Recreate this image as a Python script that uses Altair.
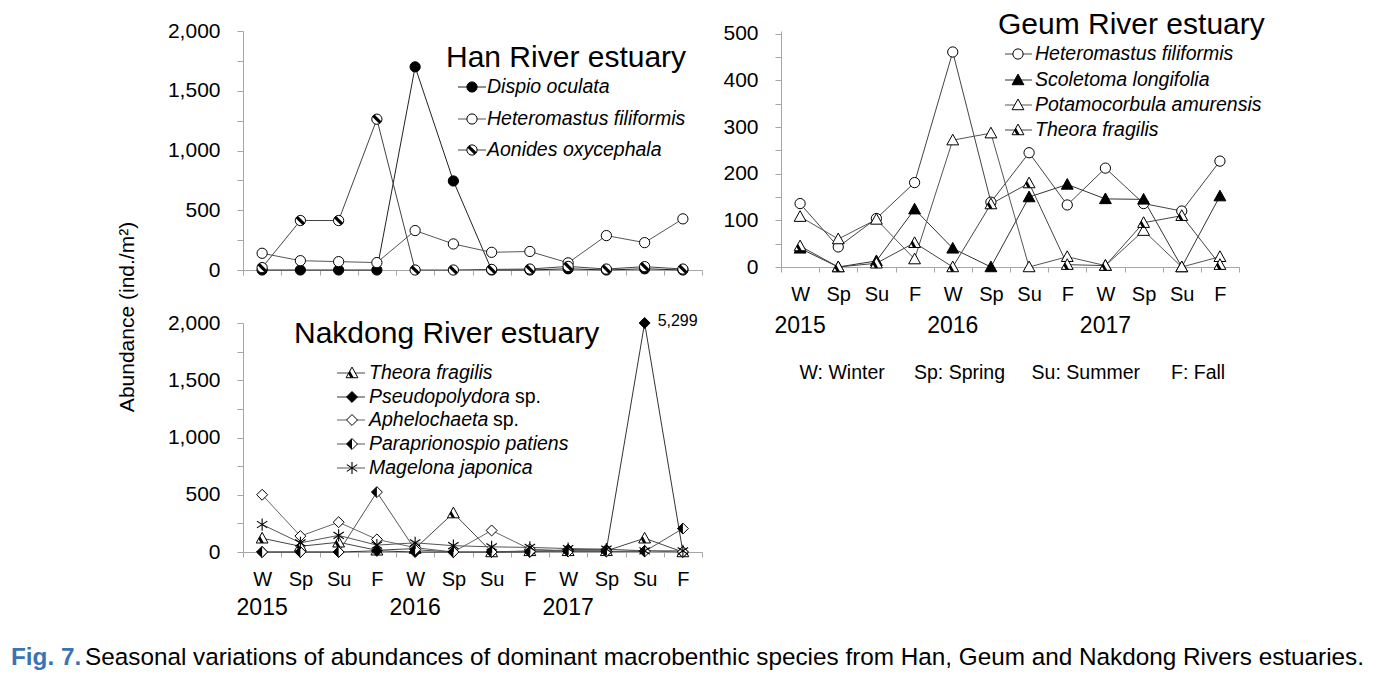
import altair as alt
import pandas as pd

FONT = "Liberation Sans"

seasons = ["W", "Sp", "Su", "F"]
years = ["2015", "2016", "2017"]
ids = [f"{s}-{y}" for y in years for s in seasons]

# ---- Han River estuary ----
han_names = ["Dispio oculata", "Heteromastus filiformis", "Aonides oxycephala"]
han_dispio = [0, 0, 0, 0, 1700, 745, 0, 0, 10, 0, 10, 0]
han_hetero = [140, 78, 70, 62, 330, 218, 148, 155, 60, 288, 229, 428]
han_aonides = [20, 414, 414, 1262, 0, 0, 5, 8, 30, 8, 28, 8]

# ---- Geum River estuary ----
geum_names = ["Heteromastus filiformis", "Scoletoma longifolia",
              "Potamocorbula amurensis", "Theora fragilis"]
geum_hetero = [136, 43, 104, 181, 461, 139, 245, 133, 212, 136, 120, 227]
geum_scol = [40, 0, 13, 124, 40, 0, 150, 177, 146, 145, 0, 152]
geum_pota = [108, 60, 102, 17, 272, 287, 0, 22, 3, 78, 0, 22]
geum_theora = [45, 0, 8, 52, 0, 135, 180, 5, 3, 95, 110, 5]

# ---- Nakdong River estuary ----
nak_names = ["Theora fragilis", "Pseudopolydora", "Aphelochaeta",
             "Paraprionospio patiens", "Magelona japonica"]
nak_suffix = ["", "sp.", "sp.", "", ""]
nak_theora = [120, 50, 85, 15, 30, 340, 0, 10, 10, 10, 120, 0]
nak_pseudo = [0, 0, 0, 10, 0, 0, 0, 0, 20, 20, 2000, 0]
nak_aphel = [500, 139, 260, 110, 38, 0, 188, 25, 10, 5, 10, 0]
nak_para = [0, 0, 0, 523, 20, 0, 0, 5, 5, 5, 5, 205]
nak_mag = [240, 80, 145, 60, 80, 55, 45, 40, 30, 25, 10, 10]
nak_peak_label = "5,299"

season_legend = ["W: Winter", "Sp: Spring", "Su: Summer", "F: Fall"]
y_title = "Abundance (ind./m\u00b2)"
caption_fig = "Fig. 7."
caption_text = ("Seasonal variations of abundances of dominant macrobenthic species "
                "from Han, Geum and Nakdong Rivers estuaries.")

# ---- marker shapes (unit square paths) ----
TRI = "M0,-1L1,0.8L-1,0.8Z"
TRI_BAND = "M-0.35,-0.37L0.3,0.8L-0.25,0.8L-0.62,0.12Z"
DIA = "M0,-1L1,0L0,1L-1,0Z"
DIA_HALF = "M0,-1L-1,0L0,1Z"
HATCH = "M-0.68,-0.68L0.68,0.68"
AST = "M0,-1L0,1M-0.85,-0.55L0.85,0.55M-0.85,0.55L0.85,-0.55"

STYLES = {
    "circle_filled": dict(shape="circle", fill="black", size=105),
    "circle_open": dict(shape="circle", fill="white", size=105),
    "circle_hatch": dict(shape="circle", fill="white", size=105, over=("stroke", HATCH)),
    "tri_filled": dict(shape=TRI, fill="black", size=140),
    "tri_open": dict(shape=TRI, fill="white", size=140),
    "tri_half": dict(shape=TRI, fill="white", size=140, over=("fill", TRI_BAND)),
    "dia_filled": dict(shape=DIA, fill="black", size=120),
    "dia_open": dict(shape=DIA, fill="white", size=120),
    "dia_half": dict(shape=DIA, fill="white", size=120, over=("fill", DIA_HALF)),
    "asterisk": dict(shape=AST, fill=None, size=150),
}


def marker_layers(base, style, enc):
    st = STYLES[style]
    out = []
    if st["fill"] is None:
        out.append(base.mark_point(shape=st["shape"], filled=False, stroke="black",
                                   strokeWidth=1.1, size=st["size"], opacity=1).encode(**enc))
    else:
        out.append(base.mark_point(shape=st["shape"], filled=True, fill=st["fill"],
                                   stroke="black", strokeWidth=1, size=st["size"],
                                   opacity=1).encode(**enc))
    if "over" in st:
        kind, path = st["over"]
        if kind == "stroke":
            out.append(base.mark_point(shape=path, filled=False, stroke="black",
                                       strokeWidth=3.2, size=st["size"], opacity=1).encode(**enc))
        else:
            out.append(base.mark_point(shape=path, filled=True, fill="black",
                                       strokeWidth=0, size=st["size"], opacity=1).encode(**enc))
    return out


def xenc(show_labels):
    return alt.X("t:N", title=None, bandPosition=0.5,
                 scale=alt.Scale(type="band", domain=ids, paddingInner=0, paddingOuter=0),
                 axis=alt.Axis(tickBand="extent", labels=show_labels, labelAngle=0,
                               labelExpr="datum.value ? split(datum.value, '-')[0] : ''",
                               tickSize=5, labelPadding=12, labelFontSize=20))


def yenc(vmax, step, lstep, top):
    return alt.Y("value:Q", title=None,
                 scale=alt.Scale(domain=[0, top], nice=False),
                 axis=alt.Axis(values=list(range(0, vmax + 1, step)),
                               labelExpr=f"datum.value % {lstep} == 0 ? format(datum.value, ',') : ''",
                               tickSize=6, labelPadding=17, labelFontSize=21))


def series_layers(names, values, styles, colors, X, Y):
    lines, marks = [], []
    for n, vals, st, col in zip(names, values, styles, colors):
        d = pd.DataFrame({"t": ids, "value": vals, "series": n})
        base = alt.Chart(d)
        lines.append(base.mark_line(color=col, strokeWidth=1).encode(x=X, y=Y))
        marks += marker_layers(base, st, dict(x=X, y=Y))
    return lines + marks


def legend_layers(names, styles, colors, ys, x0, x1, xm, xt, suffix=None, suffix_x=None):
    out = []
    for i, (n, st, col, y) in enumerate(zip(names, styles, colors, ys)):
        base = alt.Chart(pd.DataFrame({"name": [n], "suf": [suffix[i] if suffix else ""]}))
        out.append(base.mark_rule(color=col, strokeWidth=1).encode(
            x=alt.value(x0), x2=alt.value(x1), y=alt.value(y)))
        out += marker_layers(base, st, dict(x=alt.value(xm), y=alt.value(y)))
        out.append(base.mark_text(align="left", baseline="middle", font=FONT, fontStyle="italic",
                                  fontSize=19.5, color="black").encode(
            x=alt.value(xt), y=alt.value(y), text="name:N"))
        if suffix and suffix[i]:
            out.append(base.mark_text(align="left", baseline="middle", font=FONT,
                                      fontSize=19.5, color="black").encode(
                x=alt.value(suffix_x[i]), y=alt.value(y), text="suf:N"))
    return out


def title_layer(text, x, y):
    return alt.Chart(pd.DataFrame({"s": [text]})).mark_text(
        align="left", baseline="alphabetic", font=FONT, fontSize=30, color="black").encode(
        x=alt.value(x), y=alt.value(y), text="s:N")


def year_layer(X, y):
    d = pd.DataFrame({"t": [f"W-{yr}" for yr in years], "year": years})
    return alt.Chart(d).mark_text(font=FONT, fontSize=23, color="black", baseline="middle").encode(
        x=X, y=alt.value(y), text="year:N")


# ================= Han panel =================
HW, HH = 459, 239
Xh = xenc(False)
Yh = yenc(2000, 250, 500, 2000)
han_layers = series_layers(han_names, [han_dispio, han_hetero, han_aonides],
                           ["circle_filled", "circle_open", "circle_hatch"],
                           ["#222222", "#555555", "#444444"], Xh, Yh)
han_layers.append(title_layer("Han River estuary", 203, 36))
han_layers += legend_layers(han_names, ["circle_filled", "circle_open", "circle_hatch"],
                            ["#222222", "#555555", "#444444"], [56, 88, 119],
                            215, 243, 229, 244)
han_layers.append(alt.Chart(pd.DataFrame({"s": [y_title]})).mark_text(
    angle=270, font=FONT, fontSize=21, color="black", baseline="middle", align="center").encode(
    x=alt.value(-115), y=alt.value(286), text="s:N"))
han_layers.append(alt.Chart(pd.DataFrame({"s": [""]})).mark_point(size=1, opacity=0).encode(
    x=alt.value(-234), y=alt.value(-22)))
han = alt.layer(*han_layers).properties(width=HW, height=HH)

# ================= Nakdong panel =================
NW, NH = 459, 229
Xn = xenc(True)
Yn = yenc(2000, 250, 500, 2000)
nak_styles = ["tri_half", "dia_filled", "dia_open", "dia_half", "asterisk"]
nak_colors = ["#444444", "#333333", "#666666", "#555555", "#555555"]
nak_layers = series_layers(nak_names, [nak_theora, nak_pseudo, nak_aphel, nak_para, nak_mag],
                           nak_styles, nak_colors, Xn, Yn)
nak_layers.append(alt.Chart(pd.DataFrame({"t": ["Su-2017"], "value": [2000], "s": [nak_peak_label]}))
                  .mark_text(align="left", baseline="middle", font=FONT, fontSize=16, dx=13, dy=-2,
                             color="black").encode(x=Xn, y=Yn, text="s:N"))
nak_layers.append(title_layer("Nakdong River estuary", 51, 20))
nak_layers += legend_layers(nak_names, nak_styles, nak_colors, [50, 74, 97, 121, 145],
                            94, 122, 109, 126, suffix=nak_suffix,
                            suffix_x=[0, 272, 250, 0, 0])
nak_layers.append(year_layer(Xn, 285))
nak_layers.append(alt.Chart(pd.DataFrame({"s": [caption_fig]})).mark_text(
    align="left", baseline="middle", font=FONT, fontSize=24.3, fontWeight="bold",
    color="#3a73b4").encode(x=alt.value(-232), y=alt.value(335), text="s:N"))
nak_layers.append(alt.Chart(pd.DataFrame({"s": [caption_text]})).mark_text(
    align="left", baseline="middle", font=FONT, fontSize=24.3, color="black").encode(
    x=alt.value(-158), y=alt.value(335), text="s:N"))
nak = alt.layer(*nak_layers).properties(width=NW, height=NH)

# ================= Geum panel =================
GW, GH = 458, 236
Xg = xenc(True)
Yg = yenc(500, 50, 100, 506)
geum_styles = ["circle_open", "tri_filled", "tri_open", "tri_half"]
geum_colors = ["#444444", "#333333", "#555555", "#444444"]
geum_layers = series_layers(geum_names, [geum_hetero, geum_scol, geum_pota, geum_theora],
                            geum_styles, geum_colors, Xg, Yg)
geum_layers.append(title_layer("Geum River estuary", 217, 3))
geum_layers += legend_layers(geum_names, geum_styles, geum_colors, [23, 49, 74, 99],
                             224, 251, 237, 254)
geum_layers.append(year_layer(Xg, 295))
sl = pd.DataFrame({"s": season_legend, "px": [18.5, 133, 250.6, 390]})
for _, r in sl.iterrows():
    geum_layers.append(alt.Chart(pd.DataFrame({"s": [r["s"]]})).mark_text(
        align="left", baseline="middle", font=FONT, fontSize=19.5, color="black").encode(
        x=alt.value(float(r["px"])), y=alt.value(342), text="s:N"))
geum = alt.layer(*geum_layers).properties(width=GW, height=GH)

chart = alt.concat(han, geum, nak, columns=2, spacing={"row": 53, "column": 79},
                   bounds="flush").properties(
    padding=0, background="white"
).configure_view(stroke=None).configure_axis(
    grid=False, domainColor="#a6a6a6", tickColor="#a6a6a6", labelColor="black",
    labelFont=FONT, domainWidth=1, tickWidth=1
)

chart.save("out.html", embed_options={"renderer": "svg", "actions": False})
